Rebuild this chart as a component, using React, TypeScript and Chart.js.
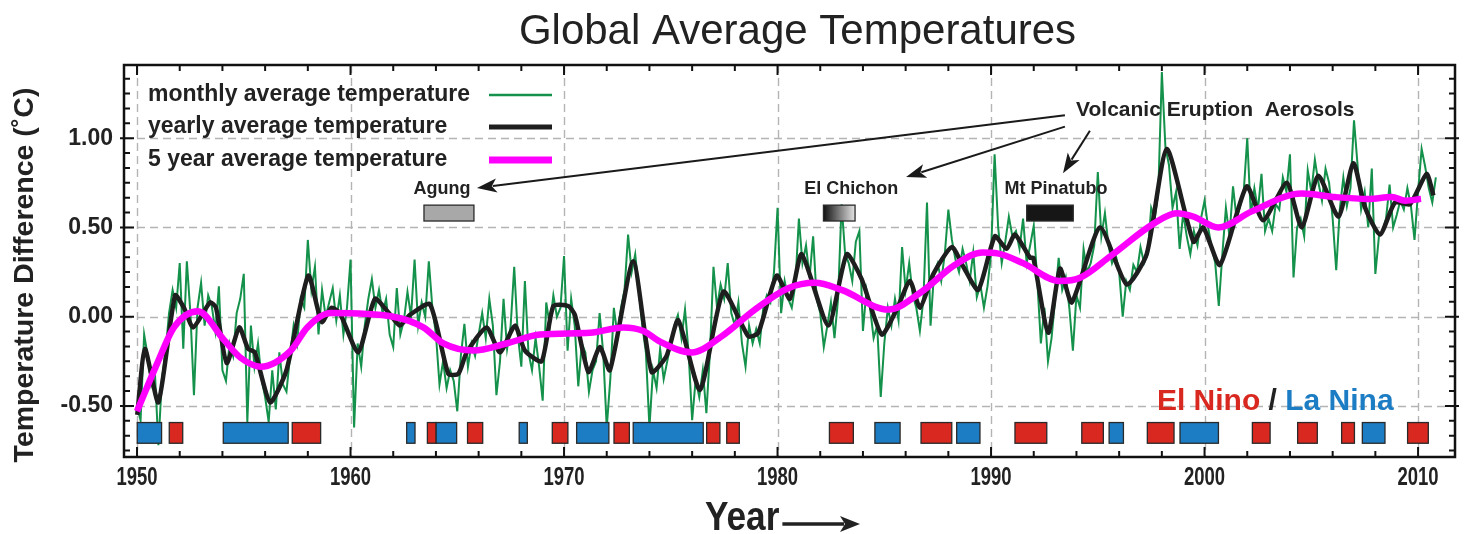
import React, { useEffect, useRef } from "react";
import { Chart, registerables } from "chart.js";

Chart.register(...registerables);

// ---------------- data ----------------
const xTicks = [1950, 1960, 1970, 1980, 1990, 2000, 2010];
const yTicks = [-0.5, 0, 0.5, 1.0];
const xMin = 1949.39;
const xMax = 2011.73;
const yMin = -0.786;
const yMax = 1.41;

// monthly average temperature, sampled six times a year starting Jan 1950
const monthlyStart = 1950;
const monthlyPerYear = 6;
const monthly1950s = [
  -0.50, -0.58, -0.10, -0.22, -0.38, -0.30,
  -0.72, -0.35, -0.20, 0.02, 0.15, 0.05,
  0.30, -0.18, 0.31, 0.02, -0.44, 0.05,
  0.19, -0.05, 0.12, 0.06, -0.08, 0.17,
  -0.30, -0.36, -0.15, -0.22, 0.02, 0.10,
  0.24, -0.59, -0.05, -0.28, -0.15, -0.35,
  -0.45, -0.59, -0.30, -0.52, -0.20, -0.38,
  -0.42, -0.22, -0.05, -0.15, 0.10, 0.05,
  0.43, 0.15, 0.28, -0.10, 0.15, 0.00,
  0.08, 0.16, -0.02, 0.12, -0.10, 0.05,
];
const monthly1960s = [
  0.32, -0.62, -0.15, -0.28, -0.05, 0.10,
  0.21, 0.05, 0.15, 0.02, 0.10, -0.10,
  -0.17, 0.16, -0.10, -0.02, 0.14, 0.00,
  0.32, -0.05, 0.08, 0.00, 0.31, 0.05,
  -0.10, -0.38, -0.25, -0.40, -0.30, -0.36,
  -0.53, -0.22, -0.04, -0.28, -0.15, -0.22,
  -0.10, 0.02, -0.12, 0.10, -0.05, -0.44,
  -0.25, 0.10, -0.18, -0.05, 0.28, -0.10,
  -0.28, 0.20, -0.20, -0.30, -0.12, -0.28,
  -0.47, 0.08, -0.05, 0.12, 0.00, 0.05,
];
const monthly1970s = [
  0.34, -0.19, 0.10, -0.05, -0.39, -0.15,
  -0.20, -0.42, -0.30, -0.25, 0.02, -0.20,
  -0.62, -0.35, 0.05, -0.10, 0.05, 0.15,
  0.46, 0.25, 0.35, 0.15, -0.05, -0.20,
  -0.62, -0.30, -0.40, -0.18, -0.35, -0.25,
  -0.15, -0.05, 0.01, -0.12, 0.04, -0.20,
  -0.58, -0.35, -0.45, -0.30, -0.54, -0.20,
  0.28, 0.05, 0.18, 0.10, 0.30, 0.02,
  -0.05, 0.08, -0.15, -0.28, -0.05, -0.15,
  -0.07, -0.15, 0.05, 0.12, 0.08, 0.25,
];
const monthly1980s = [
  0.61, 0.02, 0.20, 0.10, 0.05, 0.18,
  0.55, 0.30, 0.40, 0.22, 0.45, 0.10,
  0.02, -0.17, -0.05, 0.08, -0.12, 0.10,
  0.63, 0.35, 0.30, 0.20, 0.42, 0.48,
  -0.08, 0.15, 0.05, -0.12, -0.05, -0.45,
  -0.15, 0.05, -0.05, 0.10, -0.02, 0.39,
  0.15, 0.30, 0.12, 0.05, -0.08, 0.10,
  0.64, -0.05, 0.25, 0.30, 0.20, 0.35,
  0.60, 0.43, 0.32, 0.25, 0.38, 0.30,
  0.20, 0.36, 0.11, 0.18, 0.05, 0.17,
];
const monthly1990s = [
  0.35, 0.91, 0.50, 0.30, 0.42, 0.56,
  0.45, 0.48, 0.38, 0.55, 0.30, 0.40,
  0.51, 0.20, -0.15, 0.05, -0.25, -0.12,
  0.10, 0.33, 0.15, 0.22, 0.05, -0.19,
  0.12, 0.05, 0.38, 0.25, 0.30, 0.40,
  0.81, 0.45, 0.58, 0.40, 0.30, 0.35,
  0.25, 0.00, 0.20, 0.15, 0.29, 0.25,
  0.39, 0.30, 0.35, 0.61, 0.55, 0.70,
  1.37, 0.95, 0.85, 0.61, 0.70, 0.38,
  0.58, 0.45, 0.35, 0.48, 0.40, 0.55,
];
const monthly2000s = [
  0.65, 0.50, 0.39, 0.30, 0.06, 0.35,
  0.61, 0.45, 0.73, 0.55, 0.62, 0.70,
  1.00, 0.57, 0.72, 0.60, 0.80, 0.48,
  0.55, 0.48, 0.63, 0.60, 0.78, 0.70,
  0.91, 0.22, 0.50, 0.55, 0.45, 0.82,
  0.70, 0.88, 0.75, 0.65, 0.83, 0.75,
  0.55, 0.26, 0.60, 0.78, 0.62, 0.72,
  1.10, 0.85, 0.60, 0.70, 0.50, 0.83,
  0.24, 0.45, 0.48, 0.55, 0.74, 0.50,
  0.57, 0.65, 0.60, 0.72, 0.62, 0.43,
];
const monthly2010s = [0.70, 0.94, 0.84, 0.72, 0.64, 0.78];

// yearly average temperature (year, value)
const yearlyPoints: [number, number][] = [
  [1950.01, -0.55], [1950.37, -0.18], [1951.0, -0.48], [1951.78, 0.12], [1952.2, 0.05],
  [1952.63, -0.06], [1953.42, 0.08], [1953.7, 0.05], [1954.2, -0.26], [1954.79, -0.06],
  [1955.2, -0.18], [1955.52, -0.20], [1956.23, -0.48], [1957.0, -0.30], [1958.02, 0.23],
  [1958.65, -0.03], [1959.11, 0.05], [1959.5, 0.02], [1960.36, -0.20], [1961.14, 0.10],
  [1961.8, 0.02], [1962.31, -0.05], [1962.78, 0.01], [1963.72, 0.07], [1964.58, -0.32],
  [1965.05, -0.32], [1965.44, -0.20], [1966.37, -0.06], [1967.0, -0.20], [1967.7, -0.05],
  [1968.17, -0.19], [1968.95, -0.25], [1969.5, 0.06], [1970.2, 0.06], [1970.51, 0.01],
  [1971.14, -0.31], [1971.68, -0.17], [1972.15, -0.30], [1973.24, 0.31], [1974.1, -0.31],
  [1974.8, -0.22], [1975.35, -0.02], [1976.37, -0.41], [1977.46, 0.14], [1978.63, -0.11],
  [1979.1, -0.09], [1979.96, 0.23], [1980.58, 0.10], [1981.13, 0.35], [1982.38, -0.05],
  [1983.24, 0.35], [1983.94, 0.21], [1984.88, -0.10], [1985.58, 0.04], [1986.2, 0.20],
  [1986.67, 0.05], [1987.3, 0.24], [1988.16, 0.39], [1988.7, 0.28], [1989.4, 0.15],
  [1990.18, 0.45], [1990.73, 0.38], [1991.12, 0.46], [1991.83, 0.33], [1991.98, 0.33],
  [1992.68, -0.09], [1993.23, 0.27], [1993.78, 0.08], [1995.1, 0.50], [1996.35, 0.18],
  [1997.29, 0.35], [1998.23, 0.94], [1999.48, 0.42], [1999.94, 0.50], [2000.72, 0.29],
  [2001.97, 0.73], [2002.75, 0.54], [2003.85, 0.75], [2004.55, 0.50], [2005.33, 0.79],
  [2006.27, 0.56], [2006.97, 0.86], [2007.52, 0.61], [2008.22, 0.46], [2008.92, 0.64],
  [2009.62, 0.63], [2010.4, 0.80], [2010.72, 0.68],
];

// 5 year average temperature (year, value)
const fiveYearPoints: [number, number][] = [
  [1950.0, -0.53], [1950.95, -0.26], [1951.73, -0.06], [1952.85, 0.03], [1954.07, -0.13],
  [1954.85, -0.23], [1955.8, -0.28], [1957.2, -0.19], [1957.98, -0.06], [1959.07, 0.02],
  [1962.0, 0.0], [1963.41, -0.06], [1964.35, -0.15], [1965.75, -0.19], [1967.3, -0.15],
  [1968.88, -0.10], [1971.22, -0.09], [1972.78, -0.06], [1973.72, -0.08], [1974.5, -0.14],
  [1975.98, -0.20], [1977.38, -0.11], [1978.94, 0.04], [1980.5, 0.16], [1981.75, 0.19],
  [1983.0, 0.15], [1985.19, 0.04], [1986.75, 0.14], [1988.3, 0.29], [1989.6, 0.36],
  [1990.3, 0.355], [1991.5, 0.30], [1993.2, 0.20], [1994.2, 0.22], [1995.6, 0.34],
  [1997.6, 0.52], [1998.69, 0.58], [1999.5, 0.56], [2000.65, 0.50], [2002.21, 0.59],
  [2004.55, 0.69], [2006.12, 0.67], [2007.68, 0.66], [2008.77, 0.67], [2009.4, 0.65],
  [2010.14, 0.66],
];

// ENSO events (years)
const elNinoStart = [1951.51, 1957.27, 1963.6, 1965.48, 1969.45, 1972.34, 1976.68, 1977.62, 1982.43, 1986.72, 1991.12, 1994.25, 1997.32, 2002.24, 2004.36, 2006.42, 2009.51];
const elNinoEnd = [1952.14, 1958.6, 1964.0, 1966.19, 1970.18, 1973.06, 1977.3, 1978.21, 1983.55, 1988.16, 1992.61, 1995.26, 1998.57, 2003.07, 2005.28, 2007.02, 2010.48];
const laNinaStart = [1950.01, 1954.04, 1962.63, 1964.0, 1967.9, 1970.59, 1973.24, 1984.56, 1988.39, 1995.53, 1998.85, 2007.39];
const laNinaEnd = [1951.15, 1957.08, 1963.02, 1964.97, 1968.28, 1972.1, 1976.52, 1985.74, 1989.48, 1996.2, 2000.65, 2008.45];
const ensoTop = -0.593;
const ensoBottom = -0.709;

// volcanic eruptions
const volcanoNames = ["Agung", "El Chichon", "Mt Pinatubo"];
const volcanoStart = [1963.44, 1982.15, 1991.67];
const volcanoEnd = [1965.78, 1983.63, 1993.85];
const volcanoLabelYear = [1964.28, 1983.45, 1993.04];
const volcanoTop = 0.625;
const volcanoBottom = 0.536;
const volcanoLabelValue = 0.715;

const legendLabels = ["monthly average temperature", "yearly average temperature", "5 year average temperature"];

// ---------------- styles ----------------
const GREEN = "#14914a";
const BLACK = "#1e1e1e";
const MAGENTA = "#ff00ff";
const RED = "#d8281f";
const BLUE = "#1c7dc4";
const FONT = '"Liberation Sans", Arial, sans-serif';

function drawArrow(ctx: CanvasRenderingContext2D, x1: number, y1: number, x2: number, y2: number, head = 20, half = 7) {
  const ang = Math.atan2(y2 - y1, x2 - x1);
  const c = Math.cos(ang), s = Math.sin(ang);
  const bx = x2 - head * c, by = y2 - head * s;
  ctx.beginPath();
  ctx.moveTo(x1, y1);
  ctx.lineTo(bx + 4 * c, by + 4 * s);
  ctx.stroke();
  ctx.beginPath();
  ctx.moveTo(x2, y2);
  ctx.lineTo(bx + half * s, by - half * c);
  ctx.lineTo(bx + 5 * c, by + 5 * s);
  ctx.lineTo(bx - half * s, by + half * c);
  ctx.closePath();
  ctx.fill();
}

function condensedText(ctx: CanvasRenderingContext2D, text: string, cx: number, cy: number, sx: number, align: "center" | "left") {
  ctx.save();
  ctx.translate(cx, cy);
  ctx.scale(sx, 1);
  ctx.textAlign = align;
  ctx.textBaseline = "middle";
  ctx.fillText(text, 0, 0);
  const w = ctx.measureText(text).width * sx;
  ctx.restore();
  return w;
}

const overlay = {
  id: "overlay",
  beforeDatasetsDraw(chart: any) {
    const { ctx, chartArea: a, scales } = chart;
    const x = scales.x, y = scales.y;
    ctx.save();
    ctx.strokeStyle = "#b4b4b4";
    ctx.lineWidth = 1.4;
    ctx.setLineDash([8, 5]);
    for (const t of xTicks) {
      const px = Math.round(x.getPixelForValue(t)) + 0.5;
      ctx.beginPath(); ctx.moveTo(px, a.top); ctx.lineTo(px, a.bottom); ctx.stroke();
    }
    for (const t of yTicks) {
      const py = Math.round(y.getPixelForValue(t)) + 0.5;
      ctx.beginPath(); ctx.moveTo(a.left, py); ctx.lineTo(a.right, py); ctx.stroke();
    }
    ctx.restore();
  },
  afterDatasetsDraw(chart: any) {
    const { ctx, chartArea: a, scales } = chart;
    const x = scales.x, y = scales.y;
    ctx.save();

    // ENSO bars
    const bar = (s: number, e: number, col: string) => {
      const x1 = x.getPixelForValue(s), x2 = x.getPixelForValue(e);
      const y1 = y.getPixelForValue(ensoTop), y2 = y.getPixelForValue(ensoBottom);
      ctx.fillStyle = col;
      ctx.fillRect(x1, y1, x2 - x1, y2 - y1);
      ctx.strokeStyle = "#2a2a2a";
      ctx.lineWidth = 1.3;
      ctx.strokeRect(x1, y1, x2 - x1, y2 - y1);
    };
    laNinaStart.forEach((s, i) => bar(s, laNinaEnd[i], BLUE));
    elNinoStart.forEach((s, i) => bar(s, elNinoEnd[i], RED));

    // volcano boxes
    volcanoStart.forEach((s, i) => {
      const x1 = x.getPixelForValue(s), x2 = x.getPixelForValue(volcanoEnd[i]);
      const y1 = y.getPixelForValue(volcanoTop), y2 = y.getPixelForValue(volcanoBottom);
      if (i === 0) ctx.fillStyle = "#a8a8a8";
      else if (i === 1) {
        const g = ctx.createLinearGradient(x1, 0, x2, 0);
        g.addColorStop(0, "#111111");
        g.addColorStop(1, "#e4e4e4");
        ctx.fillStyle = g;
      } else ctx.fillStyle = "#161616";
      ctx.fillRect(x1, y1, x2 - x1, y2 - y1);
      ctx.strokeStyle = "#2a2a2a";
      ctx.lineWidth = 1.3;
      ctx.strokeRect(x1, y1, x2 - x1, y2 - y1);
      ctx.fillStyle = "#222";
      ctx.font = `bold 18px ${FONT}`;
      ctx.textAlign = "center";
      ctx.textBaseline = "middle";
      ctx.fillText(volcanoNames[i], x.getPixelForValue(volcanoLabelYear[i]), y.getPixelForValue(volcanoLabelValue));
    });

    // Volcanic annotation
    ctx.fillStyle = "#222";
    ctx.font = `bold 21px ${FONT}`;
    ctx.textAlign = "left";
    ctx.textBaseline = "middle";
    ctx.fillText("Volcanic Eruption  Aerosols", x.getPixelForValue(1993.98), y.getPixelForValue(1.157));
    ctx.strokeStyle = "#1a1a1a";
    ctx.fillStyle = "#1a1a1a";
    ctx.lineWidth = 2;
    drawArrow(ctx, x.getPixelForValue(1993.46), y.getPixelForValue(1.129), x.getPixelForValue(1965.92), y.getPixelForValue(0.721));
    drawArrow(ctx, x.getPixelForValue(1993.46), y.getPixelForValue(1.065), x.getPixelForValue(1986.02), y.getPixelForValue(0.782));
    drawArrow(ctx, x.getPixelForValue(1994.63), y.getPixelForValue(1.042), x.getPixelForValue(1993.37), y.getPixelForValue(0.804));

    // El Nino / La Nina
    ctx.font = `bold 30px ${FONT}`;
    ctx.textBaseline = "middle";
    let tx = x.getPixelForValue(1997.77);
    const ty = y.getPixelForValue(-0.478);
    const parts: [string, string][] = [["El Nino ", RED], ["/ ", "#222"], ["La Nina", BLUE]];
    for (const [t, c] of parts) {
      ctx.fillStyle = c;
      ctx.fillText(t, tx, ty);
      tx += ctx.measureText(t).width;
    }

    // legend
    const legendColors = [GREEN, BLACK, MAGENTA];
    const legendWidths = [2.5, 5, 7];
    const rowY = [a.top + 30, a.top + 62, a.top + 95];
    ctx.font = `bold 23px ${FONT}`;
    ctx.textAlign = "left";
    legendLabels.forEach((lab, i) => {
      ctx.fillStyle = "#222";
      ctx.fillText(lab, a.left + 24, rowY[i]);
      ctx.strokeStyle = legendColors[i];
      ctx.lineWidth = legendWidths[i];
      ctx.beginPath();
      ctx.moveTo(a.left + 365, rowY[i]);
      ctx.lineTo(a.left + 428, rowY[i]);
      ctx.stroke();
    });

    // frame
    ctx.strokeStyle = "#111";
    ctx.lineWidth = 2.5;
    ctx.strokeRect(a.left, a.top, a.right - a.left, a.bottom - a.top);

    // ticks (inward)
    ctx.lineWidth = 2;
    for (let yr = 1950; yr <= xMax; yr += 2) {
      const px = x.getPixelForValue(yr);
      const len = yr % 10 === 0 ? 10 : 6;
      ctx.beginPath();
      ctx.moveTo(px, a.bottom); ctx.lineTo(px, a.bottom - len);
      ctx.moveTo(px, a.top); ctx.lineTo(px, a.top + len);
      ctx.stroke();
    }
    const step = 0.5 / 6;
    for (let k = Math.ceil(yMin / step); k * step <= yMax; k++) {
      const v = k * step;
      const py = y.getPixelForValue(v);
      const major = k % 6 === 0;
      const len = major ? 10 : 6;
      ctx.beginPath();
      ctx.moveTo(a.left - (major ? 4 : 0), py); ctx.lineTo(a.left + len, py);
      ctx.moveTo(a.right + (major ? 4 : 0), py); ctx.lineTo(a.right - len, py);
      ctx.stroke();
    }

    // x tick labels (condensed)
    ctx.fillStyle = "#222";
    ctx.font = `bold 25px ${FONT}`;
    for (const t of xTicks) {
      condensedText(ctx, String(t), x.getPixelForValue(t), a.bottom + 21, 0.74, "center");
    }

    // title
    ctx.fillStyle = "#222";
    ctx.font = `42px ${FONT}`;
    ctx.textAlign = "center";
    ctx.textBaseline = "middle";
    ctx.fillText("Global Average Temperatures", (a.left + a.right) / 2 + 8, 32);

    // y axis title
    ctx.save();
    ctx.translate(25, (a.top + a.bottom) / 2 + 14);
    ctx.rotate(-Math.PI / 2);
    ctx.font = `bold 28.5px ${FONT}`;
    ctx.fillText("Temperature Difference (\u02DAC)", 0, 0);
    ctx.restore();

    // x axis title
    ctx.font = `bold 40px ${FONT}`;
    const yearLeft = 705;
    const w = condensedText(ctx, "Year", yearLeft, 519, 0.88, "left");
    ctx.strokeStyle = "#222";
    ctx.fillStyle = "#222";
    ctx.lineWidth = 3.5;
    drawArrow(ctx, yearLeft + w + 3, 524, 860, 524, 20, 8);

    ctx.restore();
  },
};

export default function App() {
  const ref = useRef<HTMLCanvasElement>(null);
  useEffect(() => {
    if (!ref.current) return;
    const monthly = [...monthly1950s, ...monthly1960s, ...monthly1970s, ...monthly1980s, ...monthly1990s, ...monthly2000s, ...monthly2010s];
    const monthlyData = monthly.map((v, i) => ({ x: monthlyStart + i / monthlyPerYear, y: v }));
    const yearlyData = yearlyPoints.map(([px, py]) => ({ x: px, y: py }));
    const fiveData = fiveYearPoints.map(([px, py]) => ({ x: px, y: py }));
    const chart = new Chart(ref.current, {
      type: "line",
      data: {
        datasets: [
          { label: legendLabels[2], data: fiveData, borderColor: MAGENTA, borderWidth: 6.5, pointRadius: 0, tension: 0.4, cubicInterpolationMode: "monotone", fill: false },
          { label: legendLabels[1], data: yearlyData, borderColor: BLACK, borderWidth: 4.5, pointRadius: 0, tension: 0.2, fill: false },
          { label: legendLabels[0], data: monthlyData, borderColor: GREEN, borderWidth: 2, pointRadius: 0, tension: 0, fill: false },
        ],
      } as any,
      options: {
        animation: false,
        responsive: false,
        maintainAspectRatio: false,
        layout: { padding: { left: 0, right: 10, top: 65, bottom: 42 } },
        plugins: { legend: { display: false }, tooltip: { enabled: false }, title: { display: false } },
        scales: {
          x: {
            type: "linear",
            min: xMin,
            max: xMax,
            afterBuildTicks: (s: any) => { s.ticks = xTicks.map((v) => ({ value: v })); },
            afterFit: (s: any) => { s.height = 35; },
            grid: { display: false, drawTicks: false },
            border: { display: false },
            ticks: { display: false },
          },
          y: {
            type: "linear",
            min: yMin,
            max: yMax,
            afterBuildTicks: (s: any) => { s.ticks = yTicks.map((v) => ({ value: v })); },
            afterFit: (s: any) => { s.width = 124; },
            grid: { display: false, drawTicks: false },
            border: { display: false },
            ticks: {
              padding: 11,
              color: "#222",
              font: { family: FONT, size: 23, weight: "bold" },
              callback: (v: any) => Number(v).toFixed(2),
            },
          },
        },
      } as any,
      plugins: [overlay],
    });
    return () => chart.destroy();
  }, []);
  return (
    <div style={{ position: "fixed", left: 0, top: 0, width: 1465, height: 534, background: "#fff" }}>
      <canvas ref={ref} width={1465} height={534} style={{ display: "block" }} />
    </div>
  );
}
